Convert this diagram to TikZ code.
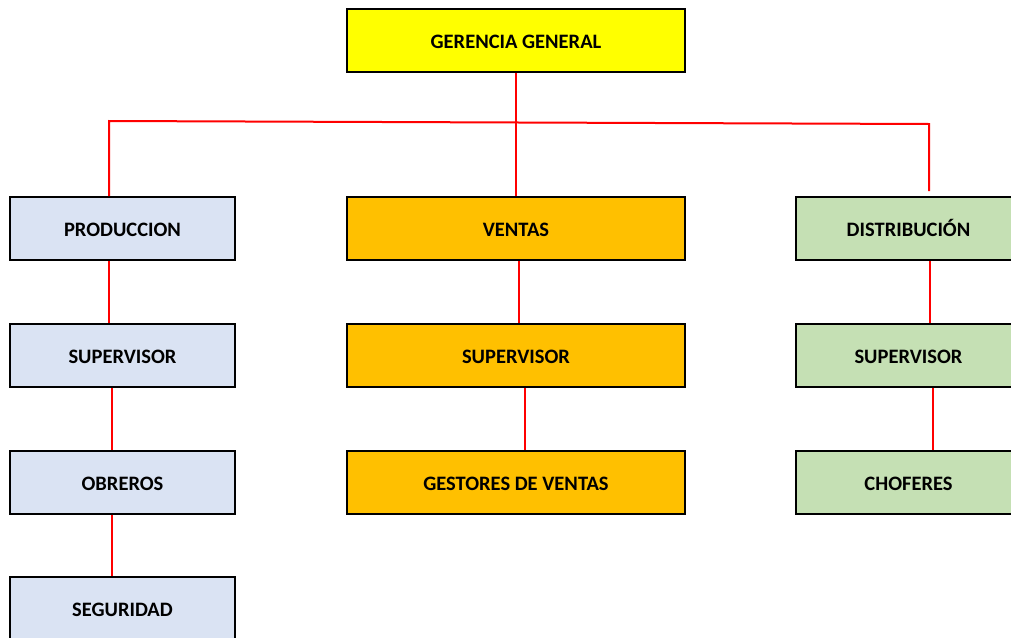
\documentclass[tikz,border=0pt]{standalone}
\usepackage{fontspec}
\setmainfont{Carlito}
\definecolor{gyel}{HTML}{FFFF00}
\definecolor{lblue}{HTML}{DAE3F3}
\definecolor{orng}{HTML}{FFC000}
\definecolor{lgreen}{HTML}{C5E0B4}
\begin{document}
\begin{tikzpicture}[x=1pt,y=-1pt,
  box/.style={draw=black, line width=2pt, minimum width=225pt, minimum height=63pt, inner sep=0pt,
    font=\fontsize{20.5}{24}\selectfont\bfseries, text=black, text height=16.5pt, text depth=0pt},
  wide/.style={box, minimum width=338pt},
  link/.style={draw=red, line width=2pt}]
\useasboundingbox (0,0) rectangle (1011,637);
\clip (0,0) rectangle (1011,637);
\node[wide, fill=gyel] (gg) at (516,40.5) {GERENCIA GENERAL};
\node[box, fill=lblue] (prod) at (122.5,228.5) {PRODUCCION};
\node[box, fill=lblue] (ps) at (122.5,355) {SUPERVISOR};
\node[box, fill=lblue] (obr) at (122.5,482) {OBREROS};
\node[box, fill=lblue] (seg) at (122.5,608.5) {SEGURIDAD};
\node[wide, fill=orng] (ventas) at (516,228.5) {VENTAS};
\node[wide, fill=orng] (vs) at (516,355) {SUPERVISOR};
\node[wide, fill=orng] (gest) at (516,482) {GESTORES DE VENTAS};
\node[box, fill=lgreen] (dist) at (908.5,228.5) {DISTRIBUCIÓN};
\node[box, fill=lgreen] (ds) at (908.5,355) {SUPERVISOR};
\node[box, fill=lgreen] (chof) at (908.5,482) {CHOFERES};
\coordinate (hl) at (109,121);
\coordinate (hr) at (929,124);
\coordinate (hre) at (929,191);
\draw[link] (hl |- prod.north) -- (hl) -- (hr) -- (hre);
\draw[link] (gg.south) -- (ventas.north);
\draw[link] ([xshift=-13.5pt]prod.south) -- ([xshift=-13.5pt]ps.north);
\draw[link] ([xshift=-10.5pt]ps.south) -- ([xshift=-10.5pt]obr.north);
\draw[link] ([xshift=-10.5pt]obr.south) -- ([xshift=-10.5pt]seg.north);
\draw[link] ([xshift=3pt]ventas.south) -- ([xshift=3pt]vs.north);
\draw[link] ([xshift=9pt]vs.south) -- ([xshift=9pt]gest.north);
\draw[link] ([xshift=21.5pt]dist.south) -- ([xshift=21.5pt]ds.north);
\draw[link] ([xshift=24.5pt]ds.south) -- ([xshift=24.5pt]chof.north);
\end{tikzpicture}
\end{document}
